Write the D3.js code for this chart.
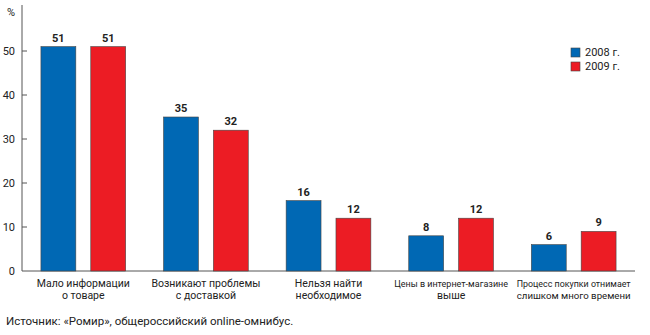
<!DOCTYPE html>
<html><head><meta charset="utf-8">
<script src="https://cdn.jsdelivr.net/npm/d3@7"></script>
<style>body{margin:0;background:#fff}text{font-family:Roboto,"Open Sans","Liberation Sans",Arial,sans-serif}</style>
</head><body><svg id="c" width="650" height="335"></svg>
<script>
const categories = [["Мало информации","о товаре"],["Возникают проблемы","с доставкой"],["Нельзя найти","необходимое"],["Цены в интернет-магазине","выше"],["Процесс покупки отнимает","слишком много времени"]];
const series = ["2008 г.","2009 г."];
const values2008 = [51,35,16,8,6];
const values2009 = [51,32,12,12,9];
const yTicks = [0,10,20,30,40,50];
const colors = ["#0068b4","#ec1c24"];

const svg = d3.select("#c");
const x = d3.scaleBand().domain(d3.range(categories.length)).range([22,635]);
const y = d3.scaleLinear().domain([0,50]).range([271,51]);
const inner = d3.scaleBand().domain([0,1]).range([0,x.bandwidth()]).paddingInner(0.3).paddingOuter(0.38);

// axes
svg.append("line").attr("x1",22).attr("x2",22).attr("y1",5).attr("y2",y(0)).attr("stroke","#555").attr("stroke-width",1);
svg.append("line").attr("x1",22).attr("x2",635).attr("y1",y(0)).attr("y2",y(0)).attr("stroke","#555").attr("stroke-width",1);
const yAxis = svg.append("g");
yTicks.forEach(t=>{
  if(t>0) yAxis.append("line").attr("x1",22).attr("x2",27).attr("y1",y(t)).attr("y2",y(t)).attr("stroke","#555");
  yAxis.append("text").attr("x",15).attr("y",y(t)+4).attr("text-anchor","end").attr("font-size",11).attr("fill","#222").text(t);
});
svg.append("text").attr("x",7).attr("y",16).attr("font-size",11).attr("fill","#222").text("%");

const data = [values2008, values2009];
data.forEach((vals,si)=>{
  const g = svg.append("g");
  g.selectAll("rect").data(vals).join("rect")
    .attr("x",(d,i)=>x(i)+inner(si)).attr("width",inner.bandwidth())
    .attr("y",d=>y(d)).attr("height",d=>y(0)-y(d))
    .attr("fill",colors[si]).attr("stroke","#444").attr("stroke-width",0.6);
  g.selectAll("text").data(vals).join("text")
    .attr("x",(d,i)=>x(i)+inner(si)+inner.bandwidth()/2).attr("y",d=>y(d)-5)
    .attr("text-anchor","middle").attr("font-size",11).attr("font-weight","bold").attr("fill","#222").text(d=>d);
});

// category labels
categories.forEach((lines,i)=>{
  lines.forEach((l,j)=>{
    const t = svg.append("text").attr("text-anchor","middle").attr("font-size",10.5).attr("fill","#222")
      .attr("x",x(i)+x.bandwidth()/2).attr("y",287+j*12).text(l);
    const w = t.node().getComputedTextLength();
    if (w > 114) t.attr("font-size",10.5*114/w);
  });
});

// legend
series.forEach((s,i)=>{
  svg.append("rect").attr("x",571).attr("y",48+i*14).attr("width",9).attr("height",9).attr("fill",colors[i]).attr("stroke","#444").attr("stroke-width",0.6);
  svg.append("text").attr("x",585).attr("y",56+i*14).attr("font-size",11).attr("fill","#222").text(s);
});

svg.append("text").attr("x",6).attr("y",325).attr("font-size",11.5).attr("fill","#222").text("Источник: «Ромир», общероссийский online-омнибус.");
</script></body></html>
